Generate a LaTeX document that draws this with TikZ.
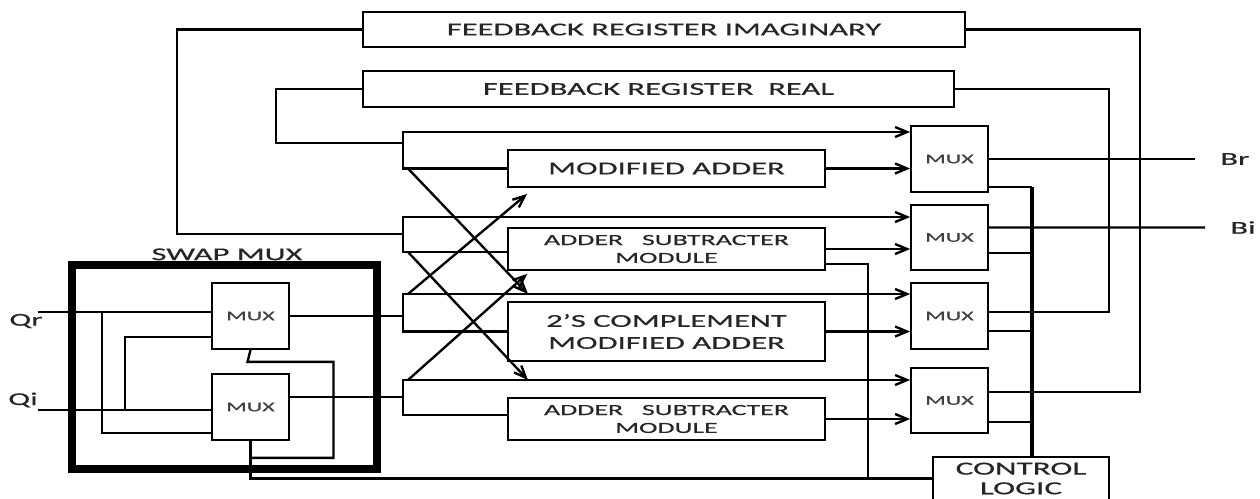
\documentclass[tikz,border=0pt]{standalone}
\usepackage{fontspec}
\newfontfamily\diagfont{Carlito}[FakeStretch=1.8, FakeBold=0.4]
\usetikzlibrary{positioning, arrows.meta}

\tikzset{
    blockbox/.style={
        draw, line width=1pt, fill=white, minimum width=6.34cm, align=center,
        text=black!85, font=\diagfont\fontsize{10.3}{12.5}\selectfont
    },
    smallblock/.style={
        blockbox, minimum height=0.84cm, font=\diagfont\fontsize{8.8}{10.2}\selectfont
    },
    regbox/.style={
        blockbox, minimum height=0.7cm
    },
    muxbox/.style={
        draw, line width=1pt, fill=white, minimum width=1.54cm, minimum height=1.3cm,
        text=black!75, font=\diagfont\fontsize{7.6}{8}\selectfont
    },
    ctrlbox/.style={
        draw, line width=1pt, minimum width=3.52cm, minimum height=0.82cm, align=center,
        text=black!85, font=\diagfont\fontsize{10.5}{11.2}\selectfont
    },
    wire/.style={
        line width=1.35pt
    },
    busline/.style={
        line width=2pt
    },
    sig/.style={
        -{Straight Barb[length=2.4mm, width=2mm]}, line width=1.35pt
    },
    pinlabel/.style={
        inner sep=0pt, text=black!85, font=\diagfont\fontsize{10.3}{12}\selectfont
    }
}

\begin{document}
\begin{tikzpicture}[x=0.02cm, y=-0.02cm]
    \fill[white] (0,0) rectangle (1260,498);
    \path[use as bounding box, clip] (0,0) rectangle (1260,498);

    % --- REGISTERS ---
    \node[regbox, minimum width=12.04cm] (FBI) at (664,29.5) {FEEDBACK REGISTER IMAGINARY};
    \node[regbox, minimum width=11.82cm, minimum height=0.72cm] (FBR) at (658.5,89) {FEEDBACK REGISTER\ \ REAL};

    % --- ARITHMETIC BLOCKS ---
    \node[blockbox, minimum height=0.74cm] (MA) at (666.5,168.5) {MODIFIED ADDER};
    \node[smallblock] (AS1) at (666.5,249) {ADDER\ \ \ SUBTRACTER\\MODULE};
    \node[blockbox, minimum height=1.18cm] (TC) at (666.5,331.5) {2’S COMPLEMENT\\MODIFIED ADDER};
    \node[smallblock] (AS2) at (666.5,419) {ADDER\ \ \ SUBTRACTER\\MODULE};

    % --- OUTPUT MUXES ---
    \node[muxbox, minimum height=1.32cm] (M1) at (949.5,159) {MUX};
    \node[muxbox] (M2) at (949.5,237.5) {MUX};
    \node[muxbox, minimum height=1.32cm] (M3) at (949.5,316) {MUX};
    \node[muxbox] (M4) at (949.5,400.5) {MUX};

    \node[ctrlbox] (CL) at (1021,478.5) {CONTROL\\LOGIC};

    % --- SWAP MUX ---
    \node[draw, line width=5pt, minimum width=6.1cm, minimum height=4.08cm] (SW) at (224.5,367) {};
    \node[pinlabel, above=0pt of SW.north, xshift=0.05cm] (swlab) {SWAP MUX};
    \node[muxbox, minimum height=1.32cm] (SMA) at (250.5,316) {MUX};
    \node[muxbox, minimum height=1.32cm] (SMB) at (250.5,407) {MUX};

    % --- PINS ---
    \coordinate (qr) at (38,312);
    \coordinate (qi) at (38,410);
    \node[pinlabel] (Qr) at (26,321) {Qr};
    \node[pinlabel] (Qi) at (23,400) {Qi};
    \coordinate (br) at (1195,159);
    \coordinate (bi) at (1205,227.5);
    \node[pinlabel, right=0.5cm of br] (Br) {Br};
    \node[pinlabel, right=0.5cm of bi] (Bi) {Bi};

    % bracket corners
    \coordinate (g1t) at (403,132);
    \coordinate (g1m) at (403,143);
    \coordinate (g1b) at (403,168.5);
    \coordinate (g2t) at (403,217);
    \coordinate (g2m) at (403,234);
    \coordinate (g2b) at (403,252);
    \coordinate (g3t) at (403,294);
    \coordinate (g3b) at (403,331.5);
    \coordinate (g4t) at (403,380);
    \coordinate (g4b) at (403,415);

    % --- BRACKETS: block input and straight path to the mux ---
    \draw[sig] (MA.west) -- (g1b) -- (g1t) -- (g1t -| M1.west);
    \draw[sig] (g2b -| AS1.west) -- (g2b) -- (g2t) -- (g2t -| M2.west);
    \draw[sig] (TC.west) -- (g3b) -- (g3t) -- (g3t -| M3.west);
    \draw[sig] (g4b -| AS2.west) -- (g4b) -- (g4t) -- (g4t -| M4.west);

    % crossing arrows
    \draw[sig] ([xshift=0.1cm]g1b) -- ([xshift=2.5cm]g3t);
    \draw[sig] ([xshift=0.1cm]g2b) -- ([xshift=2.5cm]g4t);
    \draw[sig] ([xshift=0.1cm]g3t) -- ([xshift=0.4cm, yshift=-0.12cm]MA.south west);
    \draw[sig] ([xshift=0.1cm]g4t) -- ([xshift=0.4cm, yshift=-0.06cm]AS1.south west);

    % block outputs
    \draw[sig] (MA.east) -- (MA.east -| M1.west);
    \draw[sig] (AS1.east) -- (AS1.east -| M2.west);
    \draw[sig] (TC.east) -- (TC.east -| M3.west);
    \draw[sig] (AS2.east) -- (AS2.east -| M4.west);

    % --- SWAP MUX WIRING ---
    \coordinate (qrb) at (102,312);
    \coordinate (qib) at (125,410);
    \coordinate (sel) at ([yshift=-0.34cm]SMB.south);
    \coordinate (smbo) at ([yshift=0.2cm]SMB.east);
    \draw[wire] (qr) -- (qr -| SMA.west);
    \draw[wire] (qi) -- (qi -| SMB.west);
    \draw[wire] (qrb) |- ([yshift=-0.52cm]SMB.west);
    \draw[wire] (qib) |- ([yshift=-0.42cm]SMA.west);
    \draw[wire] (SMA.south) -- ++(-3,12) -- ++(86,0) |- (sel);
    \draw[wire] (SMB.south) |- (CL.west);
    \draw[wire] (SMA.east) -- (SMA.east -| g3t);
    \draw[wire] (smbo) -- (smbo -| g4t);

    % feedback loops
    \draw[wire] (FBI.west) -- ++(-185,0) |- (g2m);
    \draw[wire] (FBR.west) -- ++(-86,0) |- (g1m);
    \draw[wire] ([yshift=0.08cm]M3.east) -- ++(120,0) |- (FBR.east);
    \draw[wire] ([yshift=0.17cm]M4.east) -- ++(151,0) |- (FBI.east);

    % outputs
    \coordinate (m2o) at ([yshift=0.2cm]M2.east);
    \draw[wire] (M1.east) -- (br);
    \draw[wire] (m2o) -- (bi);

    % --- CONTROL LINES ---
    \coordinate (bus) at ([xshift=0.22cm]CL.north);
    \coordinate (m1c) at ([yshift=-0.56cm]M1.east);
    \coordinate (m2c) at ([yshift=-0.31cm]M2.east);
    \coordinate (m3c) at ([yshift=-0.3cm]M3.east);
    \coordinate (m4c) at ([yshift=-0.43cm]M4.east);
    \draw[wire] (m1c) -- (m1c -| bus);
    \draw[wire] (m2c) -- (m2c -| bus);
    \draw[wire] (m3c) -- (m3c -| bus);
    \draw[wire] (m4c) -- (m4c -| bus);
    \draw[busline] (m1c -| bus) -- (bus);
    \draw[wire] ([yshift=-0.3cm]AS1.east) -- ++(42,0) |- (CL.west);
\end{tikzpicture}
\end{document}
